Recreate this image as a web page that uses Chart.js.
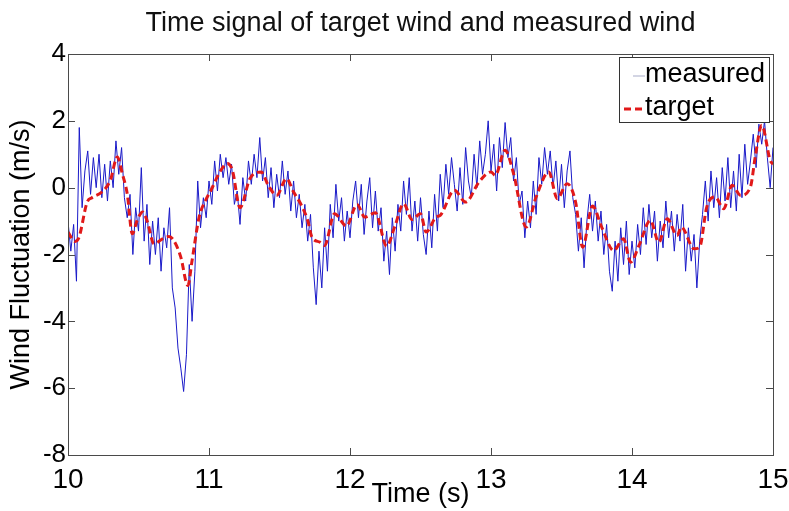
<!DOCTYPE html>
<html>
<head>
<meta charset="utf-8">
<script src="https://cdn.jsdelivr.net/npm/chart.js@4.4.0/dist/chart.umd.min.js"></script>
<style>
  html, body { margin: 0; padding: 0; background: #fff; }
</style>
</head>
<body>
<canvas id="windChart" width="789" height="511"></canvas>
<script>
const titleText = 'Time signal of target wind and measured wind';
const xTitle = 'Time (s)';
const yTitle = 'Wind Fluctuation (m/s)';

// measured signal, sampled every 0.02 s from 10 s
const measuredStart = 10;
const measuredStep = 0.02;
const measuredValues = [
    -1.0, -1.9, -1.1, -2.8, 1.8,
    -0.6, 0.5, 1.1, -0.2, 0.9,
    0.0, 1.0, -0.3, 0.7, -0.4,
    0.8, 0.0, 1.4, 0.4, 1.2,
    -0.3, -0.9, -0.2, -2.0, -0.6,
    -1.3, 0.6, -1.6, -0.5, -2.3,
    -1.0, -2.0, -0.9, -2.5, -1.2,
    -1.8, -0.6, -3.0, -3.6, -4.8,
    -5.4, -6.1, -5.0, -2.3, -4.0,
    -2.5, 0.2, -1.2, -0.3, -0.9,
    0.2, -0.5, 0.8, -0.1, 1.0,
    0.3, 0.9, 0.1, 0.7, -0.5,
    -0.1, -1.1, 0.3, -0.4, 0.8,
    0.1, 1.0, 0.3, 1.5, 0.2,
    0.9, -0.3, 0.6, -0.6, 0.4,
    -0.3, 0.8, -0.2, 0.5, -0.7,
    0.2, -0.9, -0.2, -1.2, -0.5,
    -1.6, -0.8, -2.4, -3.5, -1.9,
    -3.0, -1.2, -2.5, -0.5, -1.5,
    0.1, -1.0, -0.3, -1.6, -0.7,
    -1.5, -0.4, 0.2, -0.9, 0.1,
    -1.4, -0.4, 0.3, -1.2, -0.1,
    -1.3, -0.6, -2.2, -1.3, -2.6,
    -0.9, -1.9, -0.5, -1.3, 0.2,
    -0.8, 0.3, -1.3, -0.4, -1.6,
    -0.3, -1.4, -2.0, -0.7, -1.8,
    -0.2, -1.3, 0.4, -0.6, 0.7,
    -0.2, 0.9, 0.1, -0.7, 0.6,
    -0.5, 1.2, 0.2, -0.3, 1.0,
    0.0, 1.4, 0.4, 1.0, 2.0,
    0.5, 1.3, -0.1, 1.5, 0.6,
    1.95, 0.9, 1.5, 0.2, 0.9,
    -0.5, -0.1, -1.5, -0.4, -1.2,
    0.2, -0.8, 0.9, 0.1, 1.2,
    0.4, 1.1, 0.0, 0.8, -0.4,
    0.7, -0.6, 0.5, 1.1, -0.3,
    -0.8, -1.9, -0.9, -2.4, -1.0,
    -0.2, -1.3, -0.4, -1.6, -0.7,
    -2.0, -1.1, -2.5, -3.1, -1.6,
    -2.8, -1.2, -2.3, -1.0, -2.6,
    -1.6, -2.4, -1.1, -2.0, -0.6,
    -1.7, -0.5, -1.5, -0.7, -2.2,
    -1.0, -1.8, -0.4, -1.5, -0.7,
    -1.9, -0.8, -1.6, -0.5, -2.5,
    -1.2, -2.2, -1.4, -3.0, -1.6,
    -0.8, 0.2, -1.0, 0.5, -0.6,
    0.3, -0.9, 0.6, -0.4, 0.9,
    -0.6, 0.5, -0.7, 1.0, -0.3,
    1.3, 0.1, 0.8, 1.6, 0.6,
    1.9, 1.3, 2.0, 0.9, 0.0,
    1.2
];

// target wind
const targetTimes = [
    10.00, 10.05, 10.077, 10.136, 10.17, 10.24, 10.30, 10.35, 10.385, 10.42,
    10.456, 10.49, 10.53, 10.56, 10.61, 10.67, 10.716, 10.75, 10.80, 10.85,
    10.88, 10.93, 10.976, 11.02, 11.07, 11.13, 11.166, 11.22, 11.29, 11.37,
    11.42, 11.48, 11.55, 11.60, 11.656, 11.70, 11.73, 11.786, 11.82, 11.89,
    11.975, 12.05, 12.105, 12.18, 12.26, 12.32, 12.38, 12.44, 12.50, 12.54,
    12.61, 12.64, 12.74, 12.82, 12.915, 13.00, 13.03, 13.10, 13.16, 13.25,
    13.32, 13.41, 13.47, 13.54, 13.60, 13.65, 13.72, 13.785, 13.87, 13.94,
    13.99, 14.05, 14.13, 14.19, 14.25, 14.32, 14.35, 14.44, 14.48, 14.53,
    14.59, 14.65, 14.71, 14.77, 14.84, 14.874, 14.92, 14.98, 15.00
];
const targetValues = [
    -1.33, -1.61, -1.5, -0.43, -0.30, -0.13, 0.22, 0.92, 0.42, -0.18,
    -1.38, -0.98, -0.73, -0.98, -1.68, -1.53, -1.46, -1.58, -2.08, -2.93,
    -2.18, -0.88, -0.38, -0.03, 0.42, 0.72, 0.52, -0.6, 0.27, 0.47,
    0.07, -0.23, 0.27, -0.13, -0.53, -0.98, -1.48, -1.63, -1.73, -0.78,
    -1.15, -0.5, -0.88, -0.75, -1.75, -1.13, -0.48, -0.95, -0.78, -1.33,
    -0.88, -0.83, -0.08, -0.43, 0.17, 0.47, 0.37, 1.12, 0.42, -1.18,
    -0.28, 0.47, -0.33, 0.12, -0.43, -1.78, -0.55, -1.18, -1.88, -1.53,
    -2.23, -1.73, -0.98, -1.63, -0.93, -1.43, -1.18, -1.83, -1.78, -0.58,
    -0.28, -0.63, 0.07, -0.23, 0.02, 0.92, 1.87, 0.82, 0.7
];

const xTicks = [10, 11, 12, 13, 14, 15];
const yTicks = [-8, -6, -4, -2, 0, 2, 4];

const fontFamily = '"Liberation Sans", Arial, Helvetica, sans-serif';

// MATLAB style box, inward ticks, legend and title
const matlabFrame = {
    id: 'matlabFrame',
    afterDraw(chart) {
        const { ctx, chartArea: a, scales: { x, y } } = chart;
        ctx.save();
        ctx.strokeStyle = '#4a4a4a';
        ctx.lineWidth = 1;
        ctx.strokeRect(Math.round(a.left) + 0.5, Math.round(a.top) + 0.5, Math.round(a.width), Math.round(a.height));
        ctx.beginPath();
        x.ticks.forEach(t => {
            const px = Math.round(x.getPixelForValue(t.value)) + 0.5;
            ctx.moveTo(px, a.bottom); ctx.lineTo(px, a.bottom - 7);
            ctx.moveTo(px, a.top); ctx.lineTo(px, a.top + 7);
        });
        y.ticks.forEach(t => {
            const py = Math.round(y.getPixelForValue(t.value)) + 0.5;
            ctx.moveTo(a.left, py); ctx.lineTo(a.left + 7, py);
            ctx.moveTo(a.right, py); ctx.lineTo(a.right - 7, py);
        });
        ctx.stroke();

        // legend
        const lx = 619.5, ly = 57.5, lw = 150, lh = 65;
        ctx.fillStyle = '#fff';
        ctx.fillRect(lx, ly, lw, lh);
        ctx.strokeStyle = '#333';
        ctx.strokeRect(lx, ly, lw, lh);
        ctx.font = '27px ' + fontFamily;
        ctx.textBaseline = 'middle';
        ctx.textAlign = 'left';
        chart.data.datasets.forEach((ds, i) => {
            const rowY = 75 + i * 33;
            ctx.beginPath();
            ctx.strokeStyle = ds.legendColor;
            ctx.lineWidth = ds.borderWidth;
            ctx.setLineDash(ds.borderDash || []);
            ctx.moveTo(i ? 624 : 633, rowY + 1);
            ctx.lineTo(645, rowY + 1);
            ctx.stroke();
            ctx.setLineDash([]);
            ctx.fillStyle = '#000';
            ctx.fillText(ds.label, 645, rowY);
        });

        // title centred over the axes
        ctx.fillStyle = '#111';
        ctx.textAlign = 'center';
        ctx.fillText(titleText, (a.left + a.right) / 2, 24);
        ctx.restore();
    }
};

const ctx = document.getElementById('windChart').getContext('2d');
const windChart = new Chart(ctx, {
    type: 'line',
    data: {
        datasets: [
            {
                label: 'measured',
                data: measuredValues.map((v, i) => ({ x: measuredStart + i * measuredStep, y: v })),
                borderColor: 'rgb(25,25,200)',
                legendColor: '#a7abc8',
                borderWidth: 1,
                pointRadius: 0,
                tension: 0,
                order: 2
            },
            {
                label: 'target',
                data: targetTimes.map((t, i) => ({ x: t, y: targetValues[i] })),
                borderColor: 'rgb(225,25,25)',
                legendColor: 'rgb(225,25,25)',
                borderWidth: 3,
                borderDash: [7, 4],
                pointRadius: 0,
                cubicInterpolationMode: 'monotone',
                order: 1
            }
        ]
    },
    options: {
        responsive: false,
        animation: false,
        layout: { padding: { top: 54, right: 16, left: 0, bottom: 0 } },
        plugins: { legend: { display: false }, title: { display: false }, tooltip: { enabled: false } },
        scales: {
            x: {
                type: 'linear',
                min: 10, max: 15,
                afterBuildTicks: s => { s.ticks = xTicks.map(v => ({ value: v })); },
                afterFit: s => { s.height = 56; s.paddingLeft = 0; s.paddingRight = 0; },
                grid: { display: false, drawTicks: false },
                border: { display: false },
                ticks: { color: '#000', padding: 8, font: { size: 28, family: fontFamily } },
                title: { display: true, text: xTitle, color: '#000', padding: 0, font: { size: 27, family: fontFamily } }
            },
            y: {
                min: -8, max: 4,
                afterBuildTicks: s => { s.ticks = yTicks.map(v => ({ value: v })); },
                afterFit: s => { s.width = 68; s.paddingTop = 0; s.paddingBottom = 0; },
                grid: { display: false, drawTicks: false },
                border: { display: false },
                ticks: { color: '#000', padding: 2, font: { size: 26, family: fontFamily } },
                title: { display: true, text: yTitle, color: '#000', padding: { top: 5 }, font: { size: 27, family: fontFamily } }
            }
        }
    },
    plugins: [matlabFrame]
});
</script>
</body>
</html>
